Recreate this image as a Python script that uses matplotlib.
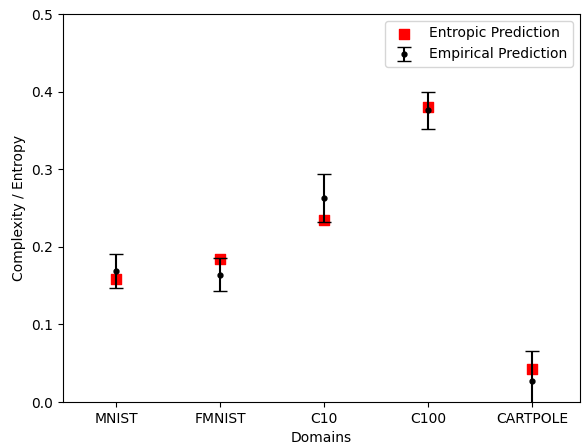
import matplotlib
matplotlib.use("Agg")
import matplotlib.pyplot as plt
import numpy as np

domains = ["MNIST", "FMNIST", "C10", "C100", "CARTPOLE"]
entropic = [0.158, 0.184, 0.234, 0.380, 0.043]
empirical = [0.169, 0.164, 0.263, 0.376, 0.027]
emp_err = [0.022, 0.021, 0.031, 0.024, 0.039]

fig = plt.figure(figsize=(5.82, 4.47), dpi=100)
ax = fig.add_axes([63/582, 1-402/447, (580-63)/582, (402-14)/447])
x = np.arange(len(domains))
ax.scatter(x, entropic, marker="s", color="red", s=45, label="Entropic Prediction", zorder=2)
ax.errorbar(x, empirical, yerr=emp_err, fmt="o", color="black", markersize=3.5,
            capsize=5, label="Empirical Prediction", zorder=3)
ax.set_xticks(x)
ax.set_xticklabels(domains)
ax.set_xlim(-0.51, 4.46)
ax.set_ylim(0, 0.5)
ax.set_xlabel("Domains")
ax.set_ylabel("Complexity / Entropy")
ax.legend(loc="upper right")
fig.savefig("out.png", dpi=100)
